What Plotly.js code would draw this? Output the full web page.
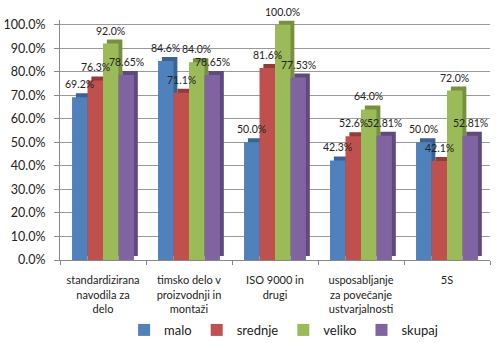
<!DOCTYPE html>
<html>
<head>
<meta charset="utf-8">
<script src="https://cdn.plot.ly/plotly-3.0.1.min.js"></script>
<style>html,body{margin:0;padding:0;background:#fff}#chart{width:502px;height:343px}</style>
</head>
<body>
<div id="chart"></div>
<script>
const categories = ['standardizirana<br>navodila za<br>delo', 'timsko delo v<br>proizvodnji in<br>montaži', 'ISO 9000 in<br>drugi', 'usposabljanje<br>za povečanje<br>ustvarjalnosti', '5S'];
const seriesNames = ['malo', 'srednje', 'veliko', 'skupaj'];
const malo = [69.2, 84.6, 50.0, 42.3, 50.0];
const srednje = [76.3, 71.1, 81.6, 52.6, 42.1];
const veliko = [92.0, 84.0, 100.0, 64.0, 72.0];
const skupaj = [78.65, 78.65, 77.53, 52.81, 52.81];
const yTickVals = [0, 10, 20, 30, 40, 50, 60, 70, 80, 90, 100];
const yTickText = ['0.0%', '10.0%', '20.0%', '30.0%', '40.0%', '50.0%', '60.0%', '70.0%', '80.0%', '90.0%', '100.0%'];

const seriesValues = [malo, srednje, veliko, skupaj];
const colors = ['#4F81BD', '#C0504D', '#9BBB59', '#8064A2'];
const sideColors = ['#3A6294', '#933B39', '#76903F', '#5F4A7C'];
const decimals = [1, 1, 1, 2];
const barW = 0.18;
const depthX = 0.045, depthY = 1.7;

const traces = [];
const annotations = [];
seriesValues.forEach((vals, i) => {
  const off = -0.36 + i * barW;
  traces.push({
    type: 'bar', x: categories, y: vals, base: depthY,
    offset: off + depthX, width: barW,
    marker: {color: sideColors[i], line: {width: 0}},
    showlegend: false, hoverinfo: 'skip'
  });
  traces.push({
    type: 'bar', name: seriesNames[i], x: categories, y: vals,
    offset: off, width: barW,
    marker: {color: colors[i], line: {width: 0}},
    hoverinfo: 'skip'
  });
  vals.forEach((v, j) => {
    annotations.push({
      xref: 'x', yref: 'y', x: j + off + barW / 2, y: v,
      text: v.toFixed(decimals[i]) + '%', showarrow: false,
      xanchor: 'center', yanchor: 'bottom', yshift: 5,
      font: {family: 'Lato', size: 10.5, color: '#222'}
    });
  });
});

const layout = {
  width: 502, height: 343,
  margin: {l: 60, r: 12, t: 20, b: 83, autoexpand: false},
  barmode: 'overlay',
  paper_bgcolor: '#fff', plot_bgcolor: '#fff',
  font: {family: 'Lato, sans-serif', color: '#222'},
  showlegend: true,
  annotations: annotations,
  legend: {orientation: 'h', x: 0.52, xanchor: 'center', yref: 'container', y: 0.038, yanchor: 'middle',
           font: {size: 13, family: 'Lato'}, traceorder: 'normal', itemwidth: 30},
  xaxis: {type: 'category', showline: true, linecolor: '#888', linewidth: 1,
          ticks: 'outside', tickson: 'boundaries', ticklen: 4, tickcolor: '#888',
          ticklabelstandoff: 10, automargin: false,
          tickfont: {size: 11, family: 'Lato'}, showgrid: false, fixedrange: true},
  yaxis: {range: [0, 102], tickmode: 'array', tickvals: yTickVals, ticktext: yTickText,
          showgrid: true, gridcolor: '#9a9a9a', gridwidth: 1,
          showline: true, linecolor: '#888', ticks: 'outside', ticklen: 5, tickcolor: '#888',
          ticklabelstandoff: 6, automargin: false,
          tickfont: {size: 12.5, family: 'Lato'}, zeroline: false, fixedrange: true}
};

Plotly.newPlot('chart', traces, layout, {displayModeBar: false, staticPlot: true});
</script>
</body>
</html>
